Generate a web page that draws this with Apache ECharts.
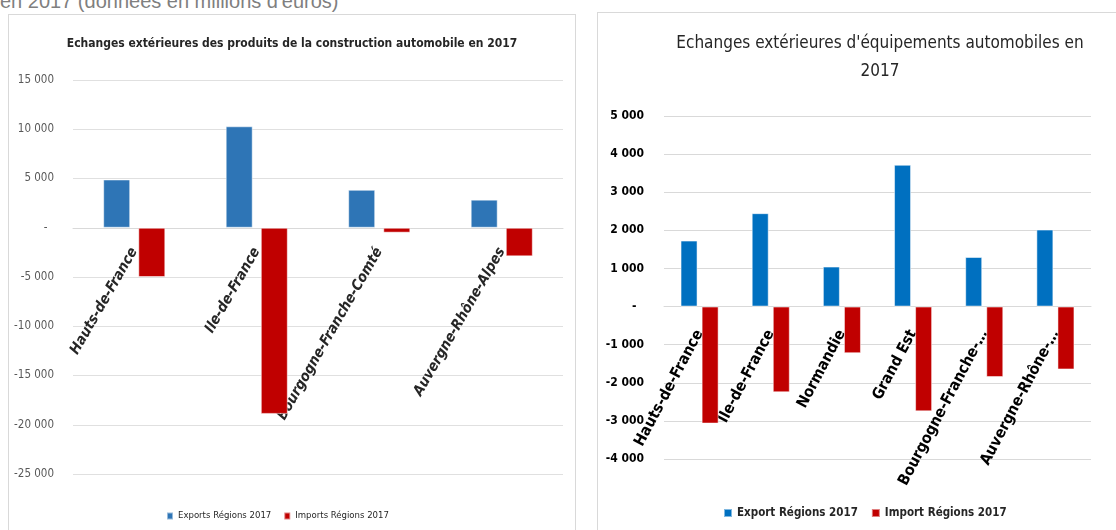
<!DOCTYPE html>
<html>
<head>
<meta charset="utf-8">
<script src="https://cdn.jsdelivr.net/npm/echarts@6/dist/echarts.min.js"></script>
<style>
  html, body { margin: 0; padding: 0; background: #fff; overflow: hidden; }
  body { width: 1116px; height: 530px; position: relative; }
  #caption {
    position: absolute; left: 0; top: -10px;
    font-family: "Liberation Sans", Arial, sans-serif; font-size: 20px; color: #7f7f7f;
    white-space: nowrap;
  }
  #left {
    position: absolute; left: 8px; top: 14px; width: 566px; height: 520px;
    border-left: 1px solid #d9d9d9; border-top: 1px solid #d9d9d9; border-right: 1px solid #d9d9d9;
  }
  #right {
    position: absolute; left: 597px; top: 12px; width: 519px; height: 522px;
    border-left: 1px solid #d9d9d9; border-top: 1px solid #d9d9d9;
  }
</style>
</head>
<body>
<div id="caption">en 2017 (données en millions d'euros)</div>
<div id="left"></div>
<div id="right"></div>
<script>
// graphique de gauche : produits de la construction automobile
const leftCategories = ['Hauts-de-France', 'Ile-de-France', 'Bourgogne-Franche-Comté', 'Auvergne-Rhône-Alpes'];
const leftExports = [4900, 10300, 3850, 2850];
const leftImports = [-5000, -18900, -500, -2900];

// graphique de droite : équipements automobiles
const rightCategories = ['Hauts-de-France', 'Ile-de-France', 'Normandie', 'Grand Est', 'Bourgogne-Franche-…', 'Auvergne-Rhône-…'];
const rightExports = [1730, 2450, 1050, 3720, 1300, 2020];
const rightImports = [-3070, -2250, -1225, -2750, -1850, -1650];

const narrow = '"DejaVu Sans Condensed", "Liberation Sans", sans-serif';

// format Excel : espace pour les milliers, tiret pour zéro
const fmt = (v) => {
  if (v === 0) return '-  ';
  const s = String(Math.abs(v)).replace(/\B(?=(\d{3})+(?!\d))/g, ' ');
  return (v < 0 ? '-' : '') + s;
};

// l'axe des catégories est remonté sur la ligne zéro (offset négatif)
const leftChart = echarts.init(document.getElementById('left'));
leftChart.setOption({
  animation: false,
  title: {
    text: 'Echanges extérieures des produits de la construction automobile en 2017',
    left: 'center',
    top: 18,
    textStyle: { fontFamily: narrow, fontSize: 12, fontWeight: 'bold', color: '#262626' }
  },
  legend: {
    left: 152,
    top: 491,
    itemWidth: 6,
    itemHeight: 7,
    itemGap: 12,
    icon: 'rect',
    textStyle: { fontFamily: narrow, fontSize: 9.5, color: '#262626' }
  },
  grid: { left: 64, right: 12, top: 65, bottom: 61, outerBoundsMode: 'none' },
  xAxis: {
    type: 'category',
    data: leftCategories,
    position: 'bottom',
    offset: -246,
    axisLine: { onZero: false, lineStyle: { color: '#d9d9d9' } },
    axisTick: { show: false },
    axisLabel: {
      rotate: 60,
      interval: 0,
      margin: 21,
      fontFamily: narrow,
      fontSize: 14.5,
      fontWeight: 'bold',
      fontStyle: 'italic',
      color: '#262626'
    }
  },
  yAxis: {
    type: 'value',
    min: -25000,
    max: 15000,
    interval: 5000,
    axisLine: { show: false },
    axisTick: { show: false },
    splitLine: { lineStyle: { color: '#e0e0e0' } },
    axisLabel: { margin: 19, fontFamily: narrow, fontSize: 11.5, color: '#595959', formatter: fmt }
  },
  series: [
    {
      name: 'Exports Régions 2017',
      type: 'bar',
      data: leftExports,
      barWidth: 27,
      barGap: '30%',
      itemStyle: { color: '#2e75b6', borderColor: 'rgba(255,255,255,0.5)', borderWidth: 1 }
    },
    {
      name: 'Imports Régions 2017',
      type: 'bar',
      data: leftImports,
      barWidth: 27,
      itemStyle: { color: '#c00000', borderColor: 'rgba(255,255,255,0.5)', borderWidth: 1 }
    }
  ]
});

const rightChart = echarts.init(document.getElementById('right'));
rightChart.setOption({
  animation: false,
  title: {
    text: "Echanges extérieures d'équipements automobiles en\n2017",
    left: 277,
    textAlign: 'center',
    top: 12,
    textStyle: { fontFamily: narrow, fontSize: 17, fontWeight: 'normal', color: '#262626', lineHeight: 28 }
  },
  legend: {
    left: 120,
    top: 489,
    itemWidth: 8,
    itemHeight: 8,
    itemGap: 13,
    icon: 'rect',
    textStyle: { fontFamily: narrow, fontSize: 11.5, fontWeight: 'bold', color: '#262626' }
  },
  grid: { left: 66, right: 26, top: 103, bottom: 76, outerBoundsMode: 'none' },
  xAxis: {
    type: 'category',
    data: rightCategories,
    position: 'bottom',
    offset: -153,
    axisLine: { onZero: false, lineStyle: { color: '#d9d9d9' } },
    axisTick: { show: false },
    axisLabel: {
      rotate: 62,
      interval: 0,
      margin: 25,
      fontFamily: narrow,
      fontSize: 15.5,
      fontWeight: 'bold',
      color: '#000'
    }
  },
  yAxis: {
    type: 'value',
    min: -4000,
    max: 5000,
    interval: 1000,
    axisLine: { show: false },
    axisTick: { show: false },
    splitLine: { lineStyle: { color: '#d9d9d9' } },
    axisLabel: { margin: 20, fontFamily: narrow, fontSize: 12, fontWeight: 'bold', color: '#000', formatter: fmt }
  },
  series: [
    {
      name: 'Export Régions 2017',
      type: 'bar',
      data: rightExports,
      barWidth: 17,
      barGap: '24%',
      itemStyle: { color: '#0070c0', borderColor: 'rgba(255,255,255,0.5)', borderWidth: 1 }
    },
    {
      name: 'Import Régions 2017',
      type: 'bar',
      data: rightImports,
      barWidth: 17,
      itemStyle: { color: '#c00000', borderColor: 'rgba(255,255,255,0.5)', borderWidth: 1 }
    }
  ]
});
</script>
</body>
</html>
